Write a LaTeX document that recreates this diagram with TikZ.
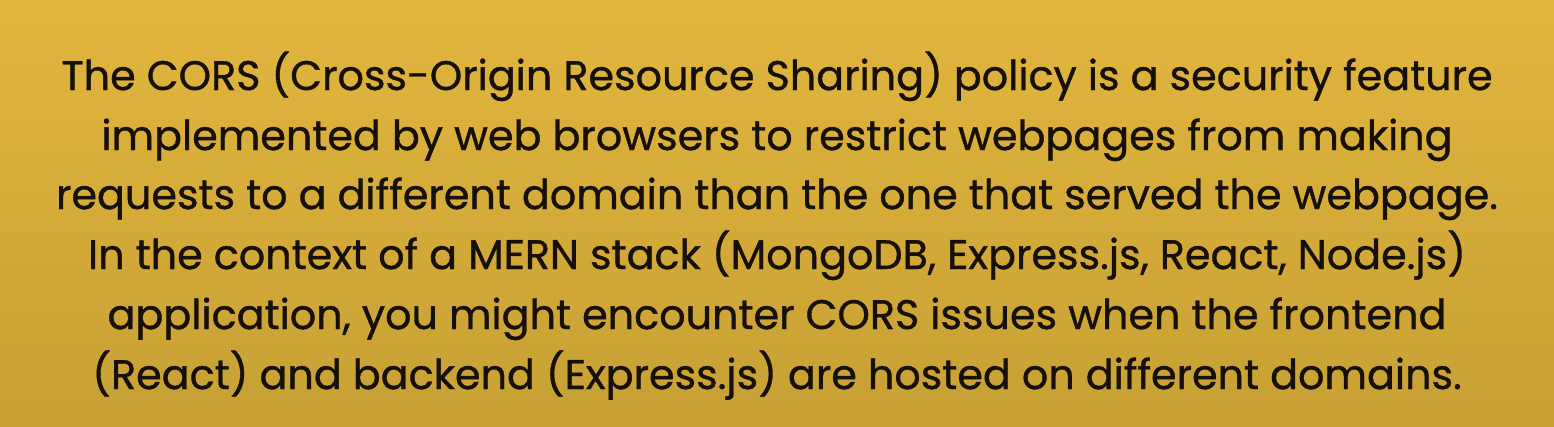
\documentclass[tikz,border=0pt]{standalone}
\usepackage{fontspec}
\setmainfont[FakeBold=0.9]{Poppins}
\definecolor{bgtop}{RGB}{226,182,62}
\definecolor{bgbot}{RGB}{199,160,52}
\definecolor{ink}{RGB}{22,16,8}
\begin{document}
\begin{tikzpicture}[x=1cm,y=1cm,
  txt/.style={anchor=base,inner sep=0pt,text=ink,font=\fontsize{11.75pt}{13pt}\selectfont}]
\shade[top color=bgtop,bottom color=bgbot] (0,0) rectangle (15.54,4.26);
\useasboundingbox (0,0) rectangle (15.54,4.26);
\node[txt] (l1) at (7.77,3.36) {The CORS (Cross-Origin Resource Sharing) policy is a security feature};
\node[txt] (l2) at (7.77,2.76) {implemented by web browsers to restrict webpages from making};
\node[txt] (l3) at (7.77,2.17) {requests to a different domain than the one that served the webpage.};
\node[txt] (l4) at (7.77,1.57) {In the context of a MERN stack (MongoDB, Express.js, React, Node.js)};
\node[txt] (l5) at (7.77,0.97) {application, you might encounter CORS issues when the frontend};
\node[txt] (l6) at (7.77,0.37) {(React) and backend (Express.js) are hosted on different domains.};
\end{tikzpicture}
\end{document}
